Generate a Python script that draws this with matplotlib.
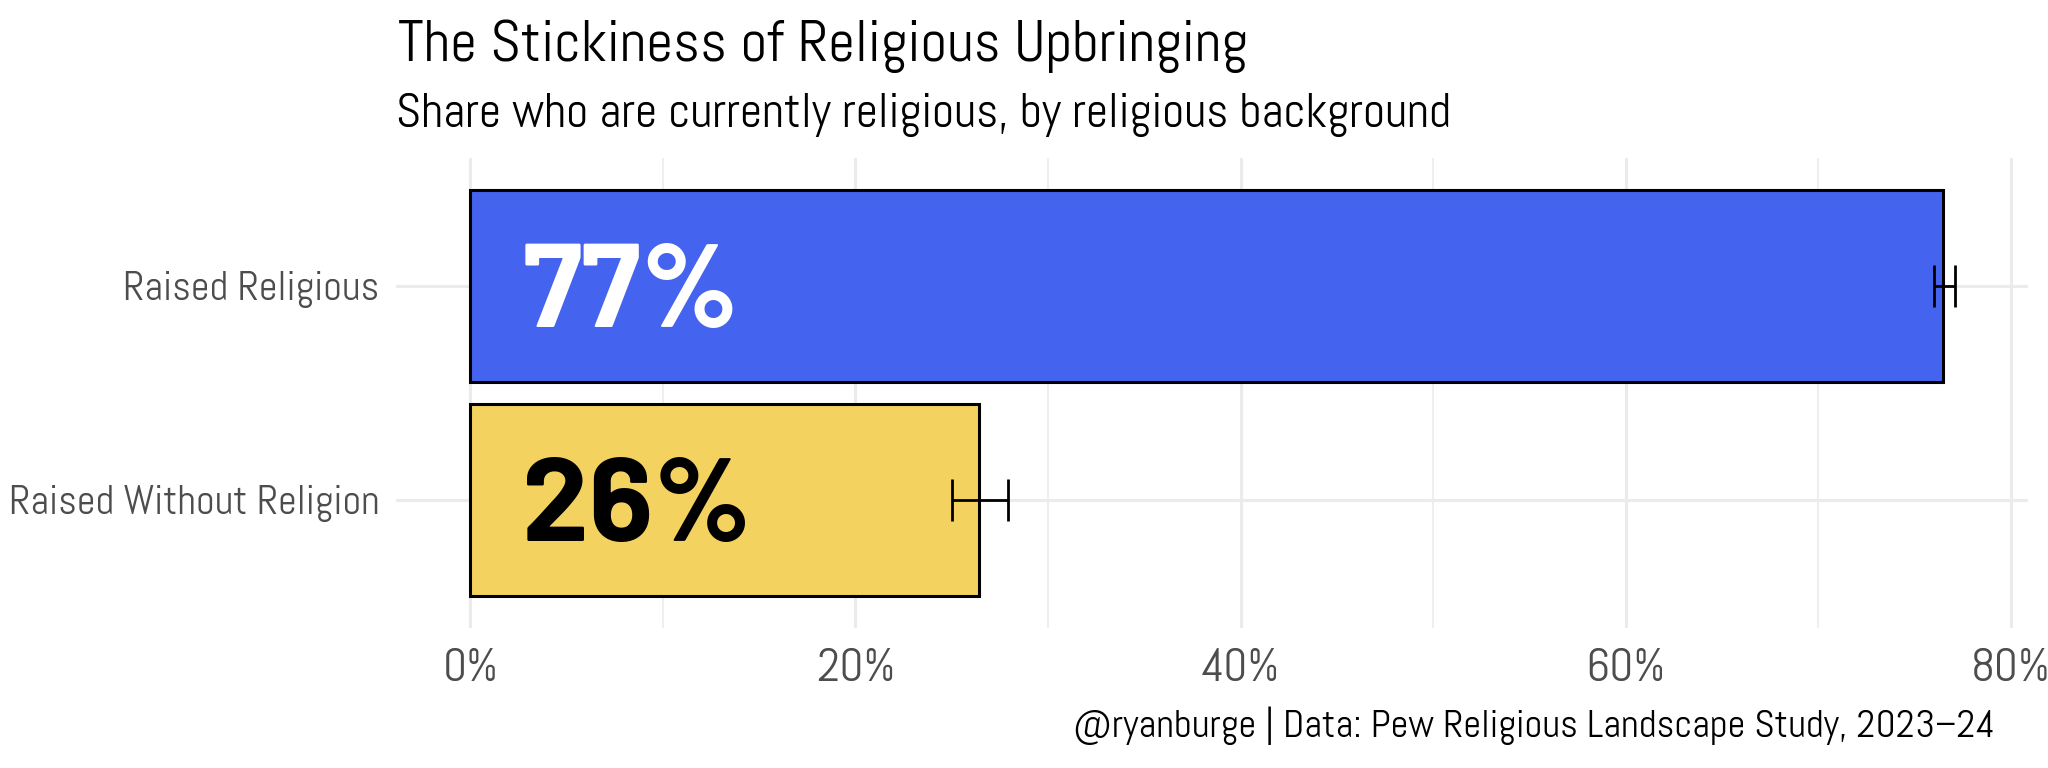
import matplotlib
matplotlib.use("Agg")
import matplotlib.pyplot as plt
from matplotlib import font_manager
from matplotlib.ticker import FixedLocator, FuncFormatter

# data
groups = ["Raised Religious", "Raised Without Religion"]
shares = [76.5, 26.4]
ci_low = [76.0, 25.0]
ci_high = [77.1, 27.9]
labels = ["77%", "26%"]
bar_colors = ["#4463EE", "#F3D25F"]
label_colors = ["white", "black"]
x_ticks = [0, 20, 40, 60, 80]
x_minor = [10, 30, 50, 70]

title = "The Stickiness of Religious Upbringing"
subtitle = "Share who are currently religious, by religious background"
caption = "@ryanburge | Data: Pew Religious Landscape Study, 2023\u201324"


def pick_font(candidates):
    have = {f.name for f in font_manager.fontManager.ttflist}
    for c in candidates:
        if c in have:
            return c
    return "DejaVu Sans"


main_font = pick_font(["Abel", "Fira Sans Condensed", "Roboto"])
bold_font = pick_font(["Barlow", "Barlow Semi Condensed", "Fira Sans", "Roboto"])
plt.rcParams["font.family"] = [main_font, "DejaVu Sans"]

fig = plt.figure(figsize=(20.48, 7.68), dpi=100)
ax = fig.add_axes([0.1934, 0.1818, 0.9902 - 0.1934, 0.7948 - 0.1818])

ypos = list(range(len(groups)))
ax.barh(ypos, shares, height=0.9, color=bar_colors, edgecolor="black",
        linewidth=2.2, zorder=3)

err_lo = [s - l for s, l in zip(shares, ci_low)]
err_hi = [h - s for s, h in zip(shares, ci_high)]
ax.errorbar(shares, ypos, xerr=[err_lo, err_hi], fmt="none", ecolor="black",
            elinewidth=2.0, capsize=15, capthick=2.0, zorder=4)

for y, lab, col in zip(ypos, labels, label_colors):
    ax.text(2.7, y, lab, color=col, fontsize=86, fontweight="bold",
            family=[bold_font, "DejaVu Sans"], va="center_baseline", ha="left", zorder=5)

ax.set_xlim(-3.86, 80.9)
ax.set_ylim(len(groups) - 0.4, -0.6)
ax.set_yticks(ypos)
ax.set_yticklabels(groups)
ax.xaxis.set_major_locator(FixedLocator(x_ticks))
ax.xaxis.set_minor_locator(FixedLocator(x_minor))
ax.xaxis.set_major_formatter(FuncFormatter(lambda v, p: "%d%%" % v))

ax.grid(True, which="major", color="#EBEBEB", linewidth=2.2, zorder=0)
ax.grid(True, which="minor", axis="x", color="#EFEFEF", linewidth=1.5, zorder=0)
ax.set_axisbelow(True)
for s in ax.spines.values():
    s.set_visible(False)
ax.tick_params(axis="both", which="both", length=0)
ax.tick_params(axis="y", labelsize=29.3, labelcolor="#4D4D4D", pad=12)
ax.tick_params(axis="x", labelsize=34, labelcolor="#4D4D4D", pad=14)

fig.text(0.1943, 0.9206, title, fontsize=42.3, va="baseline", ha="left", color="black")
fig.text(0.1934, 0.834, subtitle, fontsize=35, va="baseline", ha="left", color="black")
fig.text(0.974, 0.040, caption, fontsize=28, va="baseline", ha="right", color="black")

fig.savefig("out.png", dpi=100, facecolor="white")
